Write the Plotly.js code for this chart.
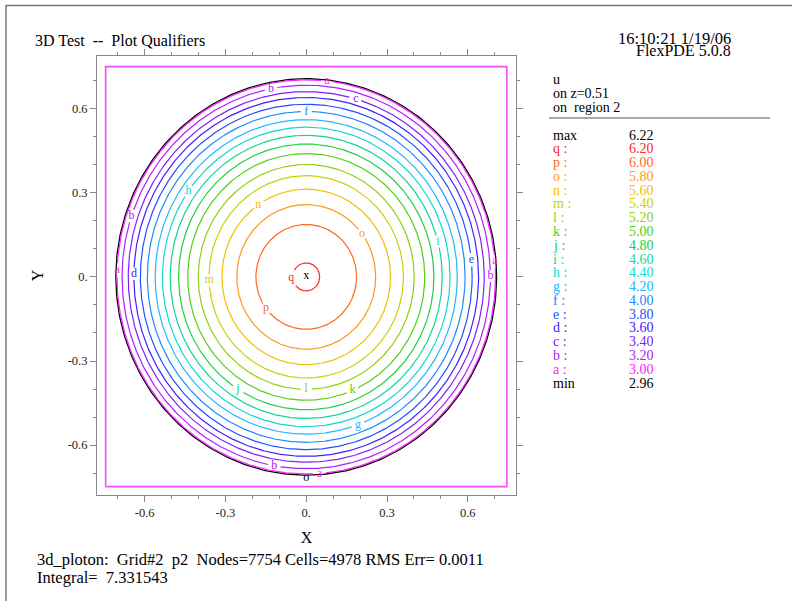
<!DOCTYPE html>
<html>
<head>
<meta charset="utf-8">
<script src="https://cdn.plot.ly/plotly-3.0.1.min.js"></script>
<style>html,body{margin:0;padding:0;background:#fff;}#plot{width:792px;height:601px;}</style>
</head>
<body>
<div id="plot"></div>
<script>
// ---------------- data ----------------
const levelNames  = ['a','b','c','d','e','f','g','h','i','j','k','l','m','n','o','p','q'];
const levelValues = [3.00,3.20,3.40,3.60,3.80,4.00,4.20,4.40,4.60,4.80,5.00,5.20,5.40,5.60,5.80,6.00,6.20];
const levelRadii  = [0.703,0.684,0.661,0.640,0.616,0.590,0.561,0.534,0.505,0.474,0.440,0.401,0.361,0.313,0.258,0.187,0.050];
const uMax = 6.22;
const uMin = 2.96;
const boundaryRadius = 0.707;
const boxX = [-0.745, 0.745, 0.745, -0.745, -0.745];
const boxY = [-0.748, -0.748, 0.750, 0.750, -0.748];
const xTickVals = [-0.6,-0.3,0,0.3,0.6];
const xTickText = ['-0.6','-0.3','0.','0.3','0.6'];
const yTickVals = [-0.6,-0.3,0,0.3,0.6];
const yTickText = ['-0.6','-0.3','0.','0.3','0.6'];

// ---------------- styles ----------------
const levelColors = ['#ff20ff','#b020ff','#8020ff','#4020ff','#2050ff','#2088ff','#20b8ff','#10d8d0','#10d890','#20d040','#50d010','#90d010','#c8d010','#f0c000','#ff9818','#ff6818','#ff2828'];
const FONT = 'Liberation Serif, Times New Roman, serif';
// label placement on contours: [level letter, angle in degrees]
const labelPlacement = [
  ['a',83.7],['a',4.6],['a',178],['a',274],
  ['b',101],['b',161.6],['b',0.3],['b',260],
  ['c',73.8],['d',179],['e',5.7],['f',90],['g',290],['h',144.9],
  ['i',14.4],['j',237.7],['k',293],['l',270],['m',181.9],['n',124.6],
  ['o',36.5],['p',217],['q',185]
];

const L=97,R=516,T=56,B=495;
const px = x => (x-L)/(R-L);
const py = y => (B-y)/(B-T);
const pxPerUnit = 275;

const traces = [];
// magenta domain box
traces.push({x:boxX,y:boxY,mode:'lines',line:{color:'#f050f0',width:1.6},hoverinfo:'skip'});
// boundary circle
(function(){
  const xs=[],ys=[];
  for(let d=0; d<=360; d+=1){const t=d*Math.PI/180; xs.push(boundaryRadius*Math.cos(t)); ys.push(boundaryRadius*Math.sin(t));}
  traces.push({x:xs,y:ys,mode:'lines',line:{color:'#000',width:1.3},hoverinfo:'skip'});
})();
// contour lines
const labX=[],labY=[],labT=[],labC=[];
levelNames.forEach((nm,i)=>{
  const r = levelRadii[i];
  const gaps = labelPlacement.filter(p=>p[0]===nm).map(p=>p[1]);
  const half = (nm==='q'?8:5.5)/(r*pxPerUnit)*180/Math.PI;
  const xs=[],ys=[];
  let prevGap=false;
  for(let d=0; d<=360; d+=0.5){
    const inGap = gaps.some(g=>{let dd=Math.abs(((d-g)%360+540)%360-180);return dd<half;});
    if(inGap){ if(!prevGap){xs.push(null);ys.push(null);} prevGap=true; continue; }
    prevGap=false;
    const t=d*Math.PI/180;
    xs.push(r*Math.cos(t)); ys.push(r*Math.sin(t));
  }
  traces.push({x:xs,y:ys,mode:'lines',line:{color:levelColors[i],width:1.2},hoverinfo:'skip',connectgaps:false});
  gaps.forEach(g=>{
    const t=g*Math.PI/180; const rr = nm==='q'? r+0.006 : r;
    labX.push(rr*Math.cos(t)); labY.push(rr*Math.sin(t)); labT.push(nm); labC.push(levelColors[i]);
  });
});
// labels
traces.push({x:labX,y:labY,mode:'text',text:labT,textposition:'middle center',
  textfont:{family:FONT,size:12,color:labC},hoverinfo:'skip'});
// centre marker and boundary label
traces.push({x:[0,0],y:[0.004,-0.717],mode:'text',text:['x','o'],textposition:'middle center',
  textfont:{family:FONT,size:12,color:['#000','#000']},hoverinfo:'skip'});

// right-hand legend
const ann = [];
function addText(t,x,y,color,size,anchor){
  ann.push({xref:'paper',yref:'paper',x:px(x),y:py(y),text:t,showarrow:false,xanchor:anchor||'left',yanchor:'middle',
    font:{family:FONT,size:size||14,color:color||'#000'}});
}
addText('u',551,80);
addText('on z=0.51',551,93);
addText('on&nbsp;&nbsp;region 2',551,107);
const rowStep = 13.78;
let rowY = 135;
addText('max',551,rowY); addText(uMax.toFixed(2),627,rowY);
for(let i=levelNames.length-1;i>=0;i--){
  rowY += rowStep;
  addText(levelNames[i]+' :',551,rowY,levelColors[i]);
  addText(levelValues[i].toFixed(2),627,rowY,levelColors[i]);
}
rowY += rowStep;
addText('min',551,rowY); addText(uMin.toFixed(2),627,rowY);
// header & footer
addText('16:10:21 1/19/06',733,39,'#000',16.5,'right');
addText('FlexPDE 5.0.8',733,51,'#000',16,'right');
addText('3d_ploton:&nbsp; Grid#2&nbsp; p2&nbsp; Nodes=7754 Cells=4978 RMS Err= 0.0011',35,559,'#000',16.5);
addText('Integral=&nbsp; 7.331543',35,577,'#000',16.5);

const shapes = [
  {type:'line',xref:'paper',yref:'paper',x0:px(549),x1:px(770),y0:py(118),y1:py(118),line:{color:'#555',width:1.2}},
  {type:'line',xref:'paper',yref:'paper',x0:px(6),x1:px(792),y0:py(5.5),y1:py(5.5),line:{color:'#777',width:1.5}},
  {type:'line',xref:'paper',yref:'paper',x0:px(6),x1:px(6),y0:py(5),y1:py(601),line:{color:'#777',width:1.5}}
];

const axisCommon = {
  showgrid:false, zeroline:false, showline:true, linecolor:'#888', linewidth:1,
  mirror:'allticks', ticks:'outside', ticklen:6, tickcolor:'#888', tickwidth:1,
  tickfont:{family:FONT,size:12.5,color:'#222'},
  minor:{dtick:0.1, ticks:'outside', ticklen:3, tickcolor:'#888', tickwidth:1, showgrid:false},
  fixedrange:true
};
const layout = {
  width:792, height:601,
  margin:{l:L, r:792-R, t:T, b:601-B},
  paper_bgcolor:'#fff', plot_bgcolor:'#fff',
  showlegend:false,
  title:{text:'3D Test&nbsp; --&nbsp; Plot Qualifiers', x:35/792, xanchor:'left', xref:'container', y:1-40/601, yanchor:'middle', yref:'container',
    font:{family:FONT,size:16,color:'#000'}},
  xaxis:Object.assign({}, axisCommon, {range:[-0.777,0.779], tickmode:'array', tickvals:xTickVals, ticktext:xTickText,
    title:{text:'X', standoff:12, font:{family:FONT,size:16,color:'#000'}}}),
  yaxis:Object.assign({}, axisCommon, {range:[-0.778,0.788], tickmode:'array', tickvals:yTickVals, ticktext:yTickText,
    title:{text:'Y', standoff:20, font:{family:FONT,size:16,color:'#000'}}}),
  annotations:ann, shapes:shapes
};
Plotly.newPlot('plot', traces, layout, {staticPlot:true, displayModeBar:false});
</script>
</body>
</html>
